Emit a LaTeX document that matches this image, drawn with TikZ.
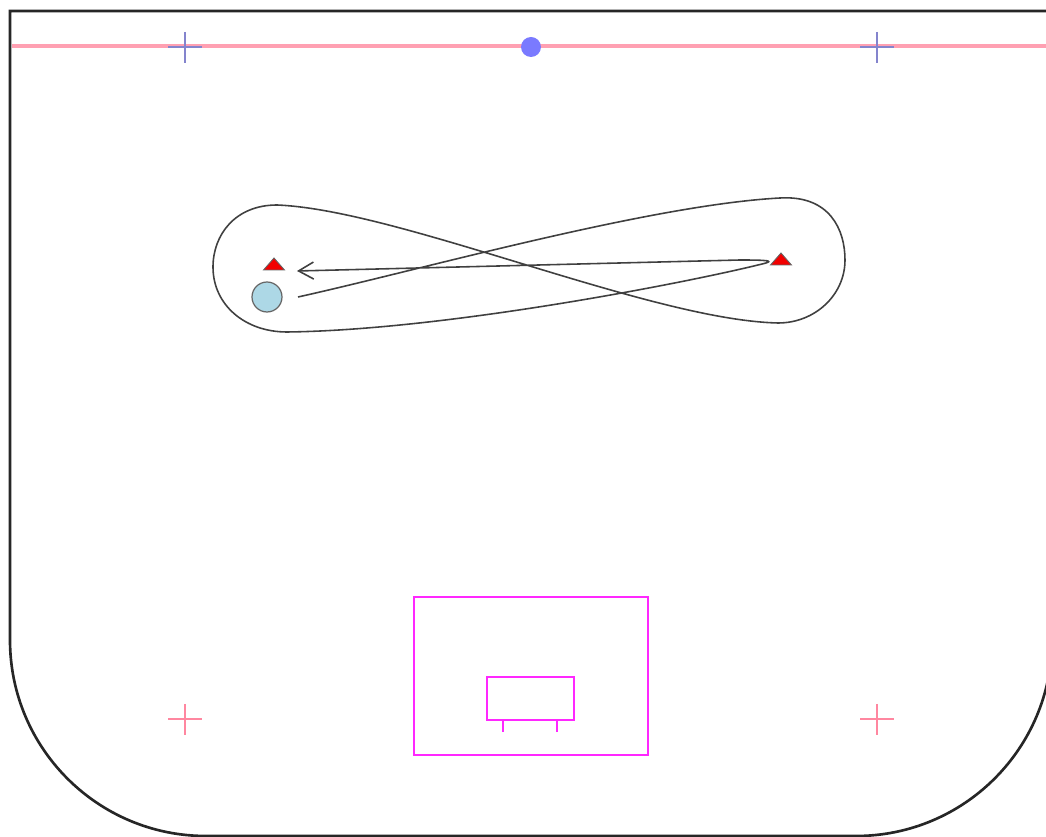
\documentclass[tikz,border=0pt]{standalone}
\usepackage{tikz}
\usetikzlibrary{arrows.meta}

\definecolor{linepink}{RGB}{255,160,178}
\definecolor{crossblue}{RGB}{132,132,205}
\definecolor{dotblue}{RGB}{122,122,255}
\definecolor{crosspink}{RGB}{255,135,160}
\definecolor{creasemag}{RGB}{255,40,255}
\definecolor{puckblue}{RGB}{173,216,230}

\begin{document}
\begin{tikzpicture}[
		x=0.02cm, y=-0.02cm,
		boards/.style={draw=black!85, line width=1.5pt},
		redline/.style={draw=linepink, line width=1.8pt},
		bluecross/.style={draw=crossblue, line width=1.4pt},
		pinkcross/.style={draw=crosspink, line width=1.4pt},
		crease/.style={draw=creasemag, line width=1.5pt},
		skate/.style={draw=black!75, line width=0.9pt, -{Straight Barb[length=3mm, width=3.4mm]}},
		puck/.style={circle, draw=black!60, fill=puckblue, line width=0.7pt, inner sep=0pt, minimum size=0.6cm},
		pics/cone/.style={code={\draw[fill=red!95!black, draw=black!60, line width=0.5pt] (-10.5,6) -- (10.5,6) -- (0,-6) -- cycle;}},
	]

	\useasboundingbox (0,0) rectangle (1046,837);
	\clip (0,0) rectangle (1046,837);

	% rink boards
	\draw[boards] (1060,11) -- (10,11) -- (10,640)
		arc[start angle=180, end angle=90, radius=196] -- (856,836)
		arc[start angle=90, end angle=0, radius=196] -- (1052,11);

	% red line and centre dot
	\draw[redline] (12,46) -- (1046,46);
	\node[circle, fill=dotblue, inner sep=0pt, minimum size=0.4cm] (centre) at (531,47) {};

	% neutral zone crosses and end zone crosses
	\foreach \cx in {185,877} {
		\draw[bluecross] (\cx-17,47) -- (\cx+17,47) (\cx,32) -- (\cx,63);
		\draw[pinkcross] (\cx-17,719) -- (\cx+17,719) (\cx,704) -- (\cx,735);
	}

	% crease and goal
	\draw[crease] (414,597) rectangle (648,755);
	\draw[crease] (487,677) rectangle (574,720);
	\draw[crease] (503,720) -- (503,732) (557,720) -- (557,732);

	% cones and puck
	\pic (coneL) at (274,264) {cone};
	\pic (coneR) at (781,259) {cone};
	\node[puck] (pk) at (267,297) {};

	\coordinate (start) at (298,297);
	\coordinate (stop) at (297,271);

	% figure eight
	\draw[skate] (start) .. controls (420,270) and (650,205) .. (780,198)
		.. controls (830,195) and (845,230) .. (845,260)
		.. controls (845,295) and (815,323) .. (778,323)
		.. controls (650,320) and (400,210) .. (277,205)
		.. controls (235,205) and (213,235) .. (213,267)
		.. controls (213,305) and (245,332) .. (287,332)
		.. controls (450,330) and (700,280) .. (766,263)
		.. controls (772,261) and (770,260) .. (740,260)
		-- (stop);

\end{tikzpicture}
\end{document}
